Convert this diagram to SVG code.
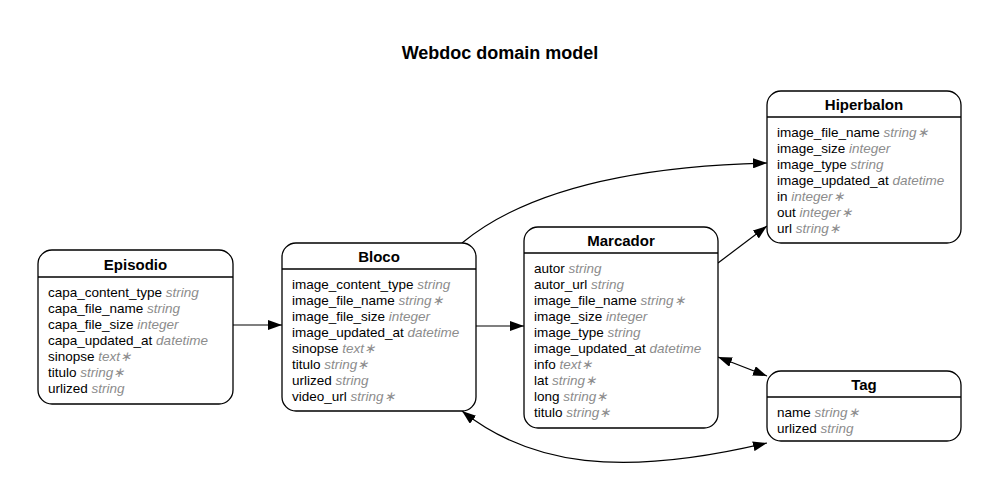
<svg xmlns="http://www.w3.org/2000/svg" width="1000" height="504" viewBox="0 0 1000 504">
<style>
.box{fill:#fff;stroke:#000;stroke-width:1.3}
.sep{stroke:#000;stroke-width:1.3}
.title{font-family:"Liberation Sans",Arial,sans-serif;font-weight:bold;font-size:15px;text-anchor:middle}
.attr{font-family:"Liberation Sans",Arial,sans-serif;font-size:13.5px;fill:#000}
.t{font-style:italic;fill:#8c8c8c}
.edge{fill:none;stroke:#000;stroke-width:1.2}
.h{font-family:"Liberation Sans",Arial,sans-serif;font-weight:bold;font-size:18px;text-anchor:middle}
</style>
<defs>
<marker id="arr" viewBox="0 0 14 10" refX="14" refY="5" markerWidth="14" markerHeight="10" markerUnits="userSpaceOnUse" orient="auto-start-reverse">
<path d="M0,0 L14,5 L0,10 Z" fill="#000"/>
</marker>
</defs>
<rect width="1000" height="504" fill="#fff"/>
<text class="h" x="500" y="59">Webdoc domain model</text>

<g id="connectors">
<path class="edge" d="M233,325 L282,325" marker-end="url(#arr)"/>
<path class="edge" d="M476,326 L524,326" marker-end="url(#arr)"/>
<path class="edge" d="M462,243 C530,187 640,166 767,163" marker-end="url(#arr)"/>
<path class="edge" d="M718,263 L767,226" marker-end="url(#arr)"/>
<path class="edge" d="M718,357 L767,376" marker-start="url(#arr)" marker-end="url(#arr)"/>
<path class="edge" d="M462,411 C530,465 620,478 767,443" marker-start="url(#arr)" marker-end="url(#arr)"/>
</g>

<g id="Episodio">
<rect class="box" x="38" y="250" width="195" height="154" rx="14"/>
<line class="sep" x1="38" y1="277" x2="233" y2="277"/>
<text class="title" x="135.5" y="270">Episodio</text>
<text class="attr" x="48" y="297">capa_content_type <tspan class="t">string</tspan></text>
<text class="attr" x="48" y="313">capa_file_name <tspan class="t">string</tspan></text>
<text class="attr" x="48" y="329">capa_file_size <tspan class="t">integer</tspan></text>
<text class="attr" x="48" y="345">capa_updated_at <tspan class="t">datetime</tspan></text>
<text class="attr" x="48" y="361">sinopse <tspan class="t">text∗</tspan></text>
<text class="attr" x="48" y="377">titulo <tspan class="t">string∗</tspan></text>
<text class="attr" x="48" y="393">urlized <tspan class="t">string</tspan></text>
</g>

<g id="Bloco">
<rect class="box" x="282" y="243" width="194" height="168" rx="14"/>
<line class="sep" x1="282" y1="269" x2="476" y2="269"/>
<text class="title" x="379" y="262">Bloco</text>
<text class="attr" x="292" y="289">image_content_type <tspan class="t">string</tspan></text>
<text class="attr" x="292" y="305">image_file_name <tspan class="t">string∗</tspan></text>
<text class="attr" x="292" y="321">image_file_size <tspan class="t">integer</tspan></text>
<text class="attr" x="292" y="337">image_updated_at <tspan class="t">datetime</tspan></text>
<text class="attr" x="292" y="353">sinopse <tspan class="t">text∗</tspan></text>
<text class="attr" x="292" y="369">titulo <tspan class="t">string∗</tspan></text>
<text class="attr" x="292" y="385">urlized <tspan class="t">string</tspan></text>
<text class="attr" x="292" y="401">video_url <tspan class="t">string∗</tspan></text>
</g>

<g id="Marcador">
<rect class="box" x="524" y="227" width="194" height="201" rx="14"/>
<line class="sep" x1="524" y1="253" x2="718" y2="253"/>
<text class="title" x="621" y="246">Marcador</text>
<text class="attr" x="534" y="273">autor <tspan class="t">string</tspan></text>
<text class="attr" x="534" y="289">autor_url <tspan class="t">string</tspan></text>
<text class="attr" x="534" y="305">image_file_name <tspan class="t">string∗</tspan></text>
<text class="attr" x="534" y="321">image_size <tspan class="t">integer</tspan></text>
<text class="attr" x="534" y="337">image_type <tspan class="t">string</tspan></text>
<text class="attr" x="534" y="353">image_updated_at <tspan class="t">datetime</tspan></text>
<text class="attr" x="534" y="369">info <tspan class="t">text∗</tspan></text>
<text class="attr" x="534" y="385">lat <tspan class="t">string∗</tspan></text>
<text class="attr" x="534" y="401">long <tspan class="t">string∗</tspan></text>
<text class="attr" x="534" y="417">titulo <tspan class="t">string∗</tspan></text>
</g>

<g id="Hiperbalon">
<rect class="box" x="767" y="91" width="194" height="152" rx="14"/>
<line class="sep" x1="767" y1="117" x2="961" y2="117"/>
<text class="title" x="864" y="110">Hiperbalon</text>
<text class="attr" x="777" y="137">image_file_name <tspan class="t">string∗</tspan></text>
<text class="attr" x="777" y="153">image_size <tspan class="t">integer</tspan></text>
<text class="attr" x="777" y="169">image_type <tspan class="t">string</tspan></text>
<text class="attr" x="777" y="185">image_updated_at <tspan class="t">datetime</tspan></text>
<text class="attr" x="777" y="201">in <tspan class="t">integer∗</tspan></text>
<text class="attr" x="777" y="217">out <tspan class="t">integer∗</tspan></text>
<text class="attr" x="777" y="233">url <tspan class="t">string∗</tspan></text>
</g>

<g id="Tag">
<rect class="box" x="767" y="371" width="194" height="70" rx="14"/>
<line class="sep" x1="767" y1="397" x2="961" y2="397"/>
<text class="title" x="864" y="390">Tag</text>
<text class="attr" x="777" y="417">name <tspan class="t">string∗</tspan></text>
<text class="attr" x="777" y="433">urlized <tspan class="t">string</tspan></text>
</g>
</svg>
